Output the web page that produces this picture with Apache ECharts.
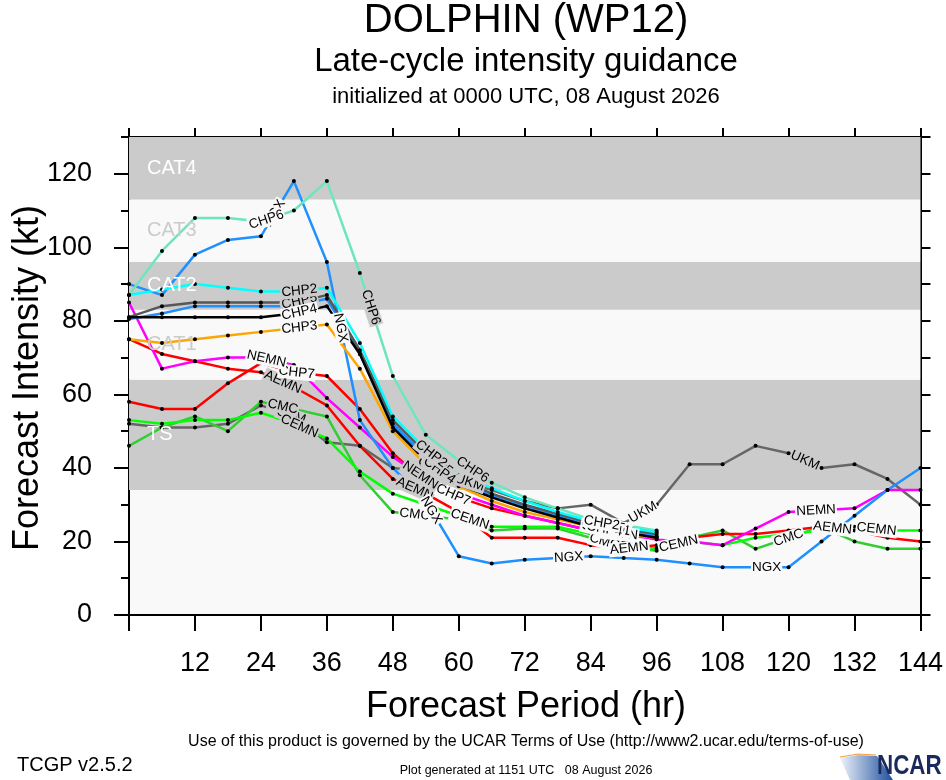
<!DOCTYPE html>
<html>
<head>
<meta charset="utf-8">
<title>DOLPHIN (WP12) late-cycle intensity guidance</title>
<script src="https://cdn.jsdelivr.net/npm/echarts@6.0.0/dist/echarts.min.js"></script>
<style>
  html, body { margin: 0; padding: 0; background: #ffffff; }
  #chart { width: 946px; height: 780px; }
</style>
</head>
<body>
<div id="chart"></div>
<script>
// forecast hours, every 6 h
var hours = [0,6,12,18,24,30,36,42,48,54,60,66,72,78,84,90,96,102,108,114,120,126,132,138,144];

// intensity (kt) per model
var ukm  = [52,51,51,52,57,54,47,46,40,39,37,34,31,29,30,25,30,41,41,46,44,40,41,37,30];
var cmc  = [46,51,54,50,58,56,54,38,28,27,26,23,23.5,23.5,21,18.5,17.5,21,23,18,21,24,20,18,18];
var cemn = [53,52,53,53,55,52,48,39,33,30,27,24,24,24,22,20,18,20,19,21,22,23,24,23,23];
var aemn = [75,71,69,67,66,62,57,46,37,33,28,21,21,21,19,18,19,21,22,22,23,24,23,21,20];
var chp7 = [58,56,56,63,68.5,66,65,56,44,36,32,29,27,25,23,22,21.3];
var nemn = [85,67,69,70,70,68,59,51,43,37,33,30,27,25,23,22,20.5,20,19,23.5,28,28.5,29,34,34];
var ngx  = [90,87,98,102,103,118,96,53,40,31,16,14,15,15.5,16,15.5,15,14,13,13,13,20,27,34,40];
var chp6 = [87,99,108,108,107,110,118,93,65,49,42,36,32,29,26,24.5,23];
var chp3 = [75,74,75,76,77,78,79,67,50,41,35,31,28,26,24,22,21];
var chp1 = [80.5,82,84,84,84,84,86,71,52,43,36,32.5,29.5,27,24.5,23,21.5];
var chp5 = [81,84,85,85,85,85,87,72,53,44,37,33,30,27.5,25,23.5,22];
var chp4 = [81,81,81,81,81,82,84,71,51,42,35.5,32,29,26.5,24,22.5,21];
var chp2 = [87,88.5,90,89,88,88,89,74,54,45,38,34.5,31,28,25.5,24,22.5];

// Saffir-Simpson bands (kt)
var bandNames = ['TS','CAT1','CAT2','CAT3','CAT4'];
var bandLow   = [34,64,83,96,113];
var bandHigh  = [64,83,96,113,130];

// axis ticks
var xMax = 144, xStep = 12;
var yMax = 130, yStep = 20;

var FONT = '"Liberation Sans", Arial, Helvetica, sans-serif';
var GRAY = '#cbcbcb', PALE = '#f9f9f9';

var models = [
  {name:'UKM',  color:'#666666', vals:ukm,  labelAt:[29.5,62,93.5,123]},
  {name:'CMC',  color:'#32cd32', vals:cmc,  labelAt:[28,52,86.5,120]},
  {name:'CEMN', color:'#00ff00', vals:cemn, labelAt:[31,62,100,136]},
  {name:'AEMN', color:'#ff0000', vals:aemn, labelAt:[28,52,91,128]},
  {name:'CHP7', color:'#ff0000', vals:chp7, labelAt:[30.5,59]},
  {name:'NEMN', color:'#ff00ff', vals:nemn, labelAt:[25,53,89,125]},
  {name:'NGX',  color:'#1e90ff', vals:ngx,  labelAt:[26.5,38.5,55,80,116]},
  {name:'CHP6', color:'#6ee6bd', vals:chp6, labelAt:[25,44,62.5]},
  {name:'CHP3', color:'#ffa500', vals:chp3, labelAt:[31,55.5,85.5]},
  {name:'CHP1', color:'#1e90ff', vals:chp1, labelAt:[31,57,88]},
  {name:'CHP5', color:'#575757', vals:chp5, labelAt:[31,56,87]},
  {name:'CHP4', color:'#000000', vals:chp4, labelAt:[31,56.5,86.5]},
  {name:'CHP2', color:'#00ffff', vals:chp2, labelAt:[31,55,86]}
];

function bandColor(v) {
  for (var i = 0; i < bandLow.length; i++) {
    if (v >= bandLow[i] && v < bandHigh[i]) return i % 2 === 0 ? GRAY : PALE;
  }
  return PALE;
}

var areas = bandNames.map(function (n, i) {
  return [{yAxis: bandLow[i], itemStyle: {color: i % 2 === 0 ? GRAY : PALE}}, {yAxis: bandHigh[i]}];
});

var series = [{
  name: 'bands', type: 'line', data: [], silent: true, z: 1,
  markArea: {silent: true, label: {show: false}, data: areas}
}];
models.forEach(function (m) {
  series.push({
    name: m.name, type: 'line',
    data: m.vals.map(function (v, i) { return [hours[i], v]; }),
    symbol: 'circle', symbolSize: 4, showSymbol: true,
    itemStyle: {color: '#000000'},
    lineStyle: {color: m.color, width: 2.5},
    emphasis: {disabled: true}
  });
});

var blackLine = {color: '#000000', width: 2};

var chart = echarts.init(document.getElementById('chart'));
chart.setOption({
  animation: false,
  backgroundColor: '#ffffff',
  grid: {left: 129, right: 23, top: 137, bottom: 165, show: true, backgroundColor: PALE, borderWidth: 0},
  xAxis: [{
    type: 'value', min: 0, max: xMax, interval: xStep, position: 'bottom',
    axisLine: {show: true, onZero: false, lineStyle: blackLine},
    axisTick: {show: true, length: 16, lineStyle: blackLine},
    axisLabel: {fontSize: 27, color: '#000', fontFamily: FONT, margin: 35,
      formatter: function (v) { return v === 0 ? '' : v; }},
    splitLine: {show: false}
  }, {
    type: 'value', min: 0, max: xMax, interval: xStep, position: 'top',
    axisLine: {show: true, onZero: false, lineStyle: blackLine},
    axisTick: {show: true, length: 9, lineStyle: blackLine},
    axisLabel: {show: false}, splitLine: {show: false}
  }],
  yAxis: [{
    type: 'value', min: 0, max: yMax, interval: yStep, position: 'left',
    axisLine: {show: true, onZero: false, lineStyle: blackLine},
    axisTick: {show: true, length: 15, lineStyle: blackLine},
    axisLabel: {fontSize: 27, color: '#000', fontFamily: FONT, margin: 37, showMaxLabel: false,
      formatter: function (v) { return v % yStep === 0 ? v : ''; }},
    splitLine: {show: false}
  }, {
    type: 'value', min: 0, max: yMax, interval: 10, position: 'right',
    axisLine: {show: true, onZero: false, lineStyle: blackLine},
    axisTick: {show: true, length: 10, lineStyle: blackLine},
    axisLabel: {show: false}, splitLine: {show: false}
  }, {
    type: 'value', min: 0, max: yMax, interval: 10, position: 'left',
    axisLine: {show: false},
    axisTick: {show: true, length: 8, lineStyle: blackLine},
    axisLabel: {show: false}, splitLine: {show: false}
  }],
  series: series
});

function txt(x, y, text, size, opts) {
  opts = opts || {};
  return {
    type: 'text', x: x, y: y, rotation: opts.rotation || 0, z: opts.z || 100,
    scaleX: opts.scaleX || 1,
    style: {
      text: text, fill: opts.color || '#000',
      font: (opts.weight || 'normal') + ' ' + size + 'px ' + FONT,
      align: opts.align || 'center', textAlign: opts.align || 'center',
      verticalAlign: 'middle', textVerticalAlign: 'middle'
    }
  };
}

var graphics = [
  txt(526, 21, 'DOLPHIN (WP12)', 40),
  txt(526, 62, 'Late-cycle intensity guidance', 33),
  txt(526, 97, 'initialized at 0000 UTC, 08 August 2026', 22),
  txt(28, 378, 'Forecast Intensity (kt)', 36, {rotation: Math.PI / 2}),
  txt(526, 707, 'Forecast Period (hr)', 36),
  txt(526, 742, 'Use of this product is governed by the UCAR Terms of Use (http://www2.ucar.edu/terms-of-use)', 16),
  txt(17, 765, 'TCGP v2.5.2', 20, {align: 'left'}),
  txt(526, 771, 'Plot generated at 1151 UTC   08 August 2026', 12.5),
  {
    type: 'polygon', z: 99,
    shape: {points: [[840, 758], [858, 755], [877, 756], [893, 780], [850, 780]]},
    style: {fill: new echarts.graphic.LinearGradient(0, 0, 1, 0, [
      {offset: 0, color: '#eef3fa'}, {offset: 1, color: '#1d4f9e'}])}
  },
  {
    type: 'polyline', z: 99,
    shape: {points: [[840, 757], [858, 754], [876, 755]]},
    style: {stroke: '#f0a040', lineWidth: 1.2, fill: null}
  },
  txt(877, 766, 'NCAR', 28, {align: 'left', weight: 'bold', color: '#1b2a5c', scaleX: 0.8})
];

// band names, drawn over the lines at each band's middle
bandNames.forEach(function (n, i) {
  var p = chart.convertToPixel({xAxisIndex: 0, yAxisIndex: 0}, [0, (bandLow[i] + bandHigh[i]) / 2]);
  graphics.push(txt(p[0] + 18, p[1], n, 20, {align: 'left', z: 55, color: i % 2 === 0 ? '#ffffff' : GRAY}));
});

// model labels placed along each line, turned with it
models.forEach(function (m) {
  m.labelAt.forEach(function (h) {
    var i = Math.min(Math.floor(h / 6), m.vals.length - 2);
    var f = (h - hours[i]) / (hours[i + 1] - hours[i]);
    var p0 = chart.convertToPixel({xAxisIndex: 0, yAxisIndex: 0}, [hours[i], m.vals[i]]);
    var p1 = chart.convertToPixel({xAxisIndex: 0, yAxisIndex: 0}, [hours[i + 1], m.vals[i + 1]]);
    var ang = Math.atan2(p1[1] - p0[1], p1[0] - p0[0]);
    var v = m.vals[i] + f * (m.vals[i + 1] - m.vals[i]);
    graphics.push({
      type: 'text', z: 60,
      x: p0[0] + f * (p1[0] - p0[0]),
      y: p0[1] + f * (p1[1] - p0[1]),
      rotation: -ang,
      style: {
        text: m.name, fill: '#000', font: '13.5px ' + FONT,
        align: 'center', textAlign: 'center', verticalAlign: 'middle', textVerticalAlign: 'middle',
        backgroundColor: bandColor(v), padding: [0, 1]
      }
    });
  });
});

chart.setOption({graphic: graphics});
</script>
</body>
</html>
